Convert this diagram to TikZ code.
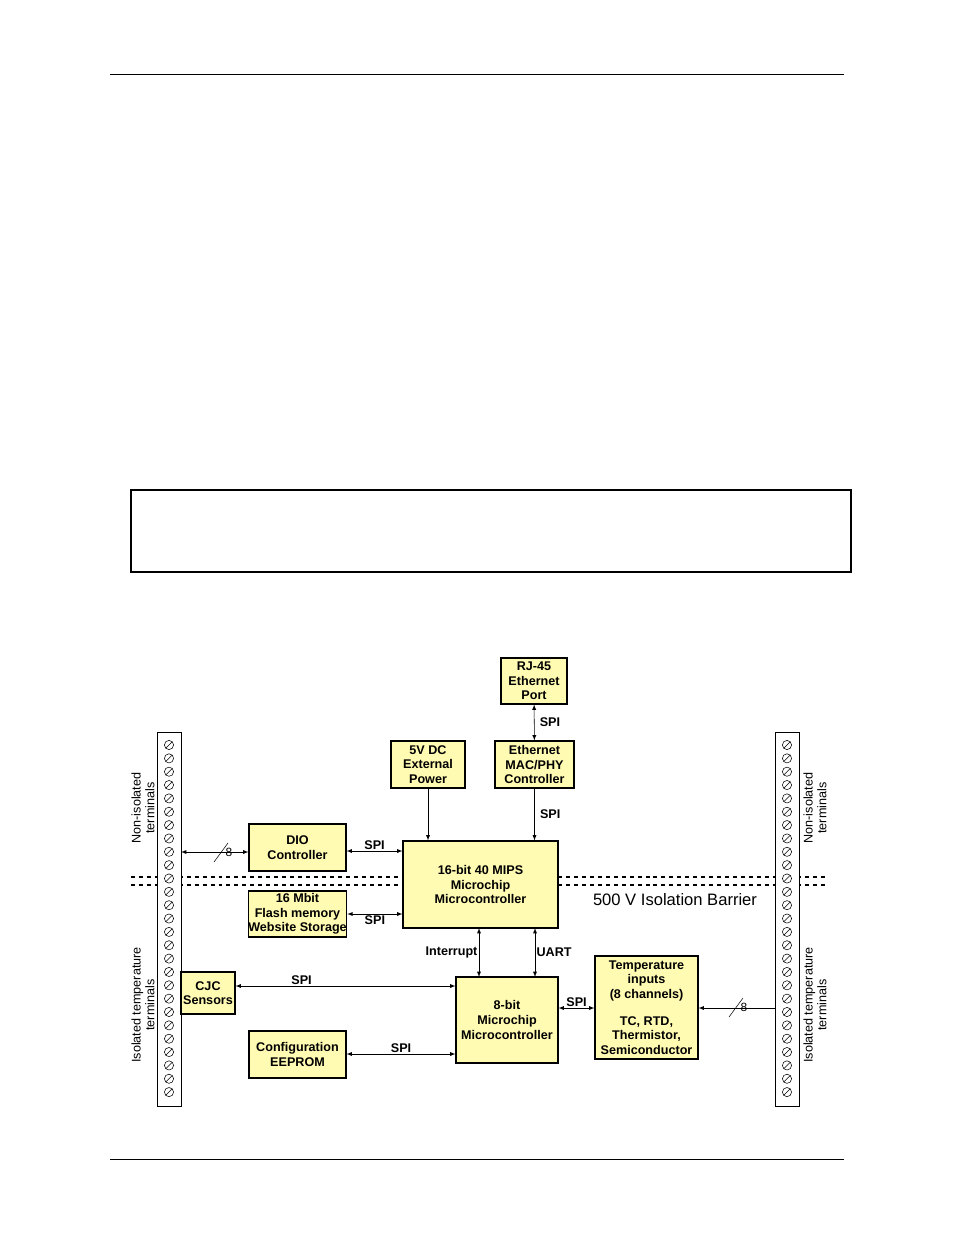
\documentclass[tikz,border=0pt]{standalone}
\usepackage{fontspec}
\setmainfont{Liberation Sans}
\usetikzlibrary{positioning}
\begin{document}
\begin{tikzpicture}[x=0.0265cm,y=-0.0265cm]
\tikzstyle{blk}=[draw=black,fill=yellow!30,thick,font=\fontsize{9.5}{11}\selectfont\bfseries,align=center,inner sep=0pt]
\tikzstyle{lbl}=[font=\fontsize{9.5}{11}\selectfont\bfseries,inner sep=1pt]
\tikzstyle{vlbl}=[font=\fontsize{9.5}{10.5}\selectfont,align=center,rotate=90,inner sep=0pt]
\tikzstyle{link}=[black,>=latex]
\useasboundingbox (0,0) rectangle (954,1235);
% page frame
\draw (110,74) -- (844,74);
\draw (110,1159) -- (844,1159);
\draw[thick] (131,490) rectangle (851,572);
% isolation barrier
\draw[dashed,thick] (131,877) -- (403,877) (131,885) -- (403,885);
\draw[dashed,thick] (558,877) -- (826,877) (558,885) -- (826,885);
\node (barrier) at (675,900) {\fontsize{12.5}{14}\selectfont 500 V Isolation Barrier};
% terminal strips
\draw[fill=white] (157,732) rectangle (181,1106);
\draw[fill=white] (775,732) rectangle (799,1106);
\foreach \i in {0,...,26} {
  \draw (169,745+\i*13.35) circle (4.6);
  \draw (165.8,748.2+\i*13.35) -- (172.2,741.8+\i*13.35);
  \draw (787,745+\i*13.35) circle (4.6);
  \draw (783.8,748.2+\i*13.35) -- (790.2,741.8+\i*13.35);
}
\node[vlbl] (nonisoL) at (143,808) {Non-isolated\\terminals};
\node[vlbl] (isoL) at (143,1005) {Isolated temperature\\terminals};
\node[vlbl] (nonisoR) at (815,808) {Non-isolated\\terminals};
\node[vlbl] (isoR) at (815,1005) {Isolated temperature\\terminals};
\coordinate (stripL) at (181,852);
\coordinate (stripR) at (775,1008);
% blocks
\node[blk,minimum width=66*0.0265cm,minimum height=46*0.0265cm] (rj) at (534,681) {RJ-45\\Ethernet\\Port};
\node[blk,minimum width=79*0.0265cm,minimum height=47*0.0265cm] (mac) at (534.5,764.5) {Ethernet\\MAC/PHY\\Controller};
\node[blk,minimum width=74*0.0265cm,minimum height=47*0.0265cm] (pwr) at (428,764.5) {5V DC\\External\\Power};
\node[blk,minimum width=97*0.0265cm,minimum height=47*0.0265cm] (dio) at (297.5,847.5) {DIO\\Controller};
\node[blk,minimum width=155*0.0265cm,minimum height=87*0.0265cm] (mcu) at (480.5,884.5) {16-bit 40 MIPS\\Microchip\\Microcontroller};
\node[blk,minimum width=97*0.0265cm,minimum height=46*0.0265cm] (flash) at (297.5,914) {16 Mbit\\Flash memory\\Website Storage};
\node[blk,minimum width=54*0.0265cm,minimum height=42*0.0265cm] (cjc) at (208,993) {CJC\\Sensors};
\node[blk,minimum width=97*0.0265cm,minimum height=47*0.0265cm] (eeprom) at (297.5,1054.5) {Configuration\\EEPROM};
\node[blk,minimum width=102*0.0265cm,minimum height=86*0.0265cm] (small) at (507,1020) {8-bit\\Microchip\\Microcontroller};
\node[blk,minimum width=103*0.0265cm,minimum height=103*0.0265cm] (temp) at (646.5,1007.5) {Temperature\\inputs\\(8 channels)\\[9pt]TC, RTD,\\Thermistor,\\Semiconductor};
% connectors
\draw[link,<->] (rj) -- node[lbl,right=3pt] {SPI} (mac);
\draw[link,->] (mac) -- node[lbl,right=3pt] {SPI} (mac|-mcu.north);
\draw[link,->] (pwr) -- (pwr|-mcu.north);
\draw[link,<->] (dio.east|-0,851) -- node[lbl,above] {SPI} (mcu.west|-0,851);
\draw[link,<->] (stripL) -- (dio.west|-stripL);
\draw (214,862) -- (228,843) node[lbl,font=\fontsize{9}{10}\selectfont,below right=3pt and -3pt] {8};
\draw[link,<->] (flash.east|-0,914) -- node[lbl,below] {SPI} (mcu.west|-0,914);
\draw[link,<->] (479,928) -- node[lbl,left] {Interrupt} (479,977);
\draw[link,<->] (535,928) -- node[lbl,right] {UART} (535,977);
\draw[link,<->] (cjc.east|-0,986) -- node[lbl,above,pos=0.3] {SPI} (small.west|-0,986);
\draw[link,<->] (eeprom.east|-0,1054) -- node[lbl,above] {SPI} (small.west|-0,1054);
\draw[link,<->] (small.east|-0,1008) -- node[lbl,above] {SPI} (temp.west|-0,1008);
\draw[link,->] (stripR) -- (temp.east|-stripR);
\draw (729,1017) -- (743,998) node[lbl,font=\fontsize{9}{10}\selectfont,below right=3pt and -3pt] {8};
\end{tikzpicture}
\end{document}
